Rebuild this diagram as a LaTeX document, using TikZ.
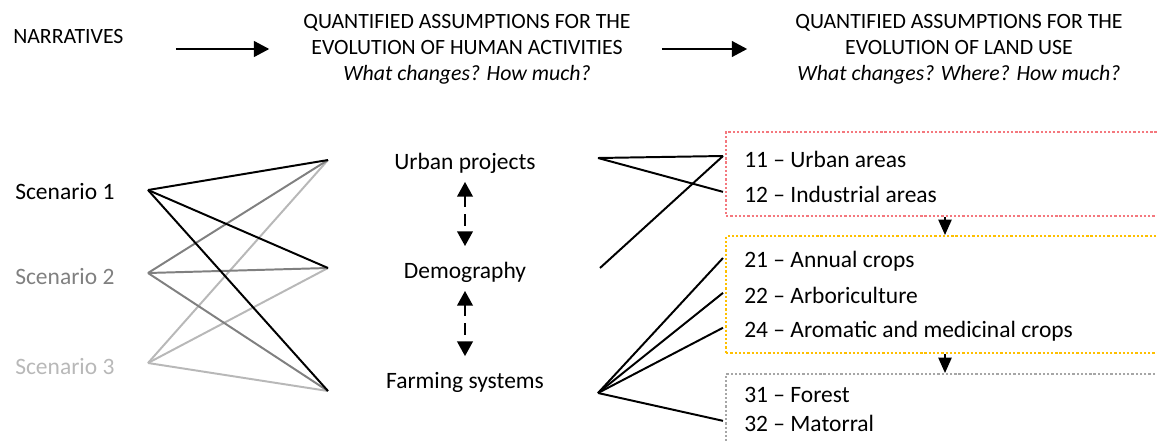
\documentclass[tikz,border=0pt]{standalone}
\usepackage{fontspec}
\setmainfont{Carlito}
\usetikzlibrary{arrows.meta, positioning}

\definecolor{scentwo}{gray}{0.5}
\definecolor{scenthree}{gray}{0.72}
\definecolor{urbanred}{HTML}{F4787E}
\definecolor{cropgold}{HTML}{FFC000}
\definecolor{natgray}{HTML}{A6A6A6}

\begin{document}
\begin{tikzpicture}[
    x=0.025cm, y=-0.025cm,
    every node/.style = {font=\fontsize{16.7}{19}\selectfont},
    heading/.style = {align=center, inner sep=0pt, font=\fontsize{15.5}{18.4}\selectfont},
    item/.style = {anchor=west, inner sep=0pt},
    driver/.style = {inner sep=0pt},
    link/.style = {line width=1.4pt},
    flow/.style = {line width=2.1pt, -{Triangle[length=11pt, width=11pt]}},
    inter/.style = {line width=1.8pt, dash pattern=on 8pt off 5pt,
                    {Triangle[length=10.5pt, width=11pt]}-{Triangle[length=10.5pt, width=11pt]}},
    drop/.style = {line width=1.2pt, -{Triangle[length=11pt, width=9.5pt]}},
    zone/.style = {line width=1.7pt, dash pattern=on 1.6pt off 1.4pt,
                   anchor=north west, inner sep=0pt, minimum width=11.5cm}
  ]

  \useasboundingbox (0,0) rectangle (1157,441);
  \clip (0,0) rectangle (1157,441);

  % Headings
  \node[item, font=\fontsize{15.5}{18.4}\selectfont] (narr) at (13,37) {NARRATIVES};
  \node[heading] (human) at (467,49) {QUANTIFIED ASSUMPTIONS FOR THE\\
    EVOLUTION OF HUMAN ACTIVITIES\\ \textit{What changes? How much?}};
  \node[heading] (land) at (959,49) {QUANTIFIED ASSUMPTIONS FOR THE\\
    EVOLUTION OF LAND USE\\ \textit{What changes? Where? How much?}};

  \draw[flow, shorten <=37pt, shorten >=24pt] (narr.east |- human) -- (human.west);
  \draw[flow, shorten <=22pt, shorten >=34pt] (human.east) -- (land.west);

  % Scenarios
  \node[item] (s1) at (15,192) {Scenario 1};
  \node[item, text=scentwo] (s2) at (15,277) {Scenario 2};
  \node[item, text=scenthree] (s3) at (15,367) {Scenario 3};

  \coordinate (s1x) at (148,190);
  \coordinate (s2x) at (148,273);
  \coordinate (s3x) at (148,363);
  \coordinate (ux) at (328,160);
  \coordinate (dx) at (328,268);
  \coordinate (fx) at (328,391);

  \foreach \s/\c in {3/scenthree, 2/scentwo, 1/black}
    \foreach \t in {ux, dx, fx}
      \draw[link, \c] (s\s x) -- (\t);

  % Drivers
  \node[driver] (urb) at (465,163) {Urban projects};
  \node[driver] (demo) at (465,272) {Demography};
  \node[driver] (farm) at (465,382) {Farming systems};

  \draw[inter, shorten <=6pt, shorten >=11pt] (urb) -- (demo);
  \draw[inter, shorten <=6pt, shorten >=11pt] (demo) -- (farm);

  % Land use classes
  \node[zone, draw=urbanred, minimum height=2.1cm] (urbbox) at (725,131) {};
  \node[zone, draw=cropgold, minimum height=2.925cm] (cropbox) at (725,235) {};
  \node[zone, draw=natgray, minimum height=3cm] (natbox) at (725,373) {};

  \node[item] (c11) at (744,159) {11 – Urban areas};
  \node[item, below=25.5pt of c11.west, anchor=west] (c12) {12 – Industrial areas};
  \node[item] (c21) at (744,261) {21 – Annual crops};
  \node[item, below=24.8pt of c21.west, anchor=west] (c22) {22 – Arboriculture};
  \node[item, below=24.8pt of c22.west, anchor=west] (c24) {24 – Aromatic and medicinal crops};
  \node[item] (c31) at (744,395) {31 – Forest};
  \node[item, below=20.5pt of c31.west, anchor=west] (c32) {32 – Matorral};

  \coordinate (arrowx) at (945,0);
  \draw[drop] (urbbox.south -| arrowx) -- (cropbox.north -| arrowx);
  \draw[drop] (cropbox.south -| arrowx) -- (natbox.north -| arrowx);

  % Links from drivers to classes
  \coordinate (urbx) at (598,158);
  \coordinate (demx) at (600,268);
  \coordinate (farmx) at (598,393);

  \draw[link] (urbx) -- ([shift={(-21,-3)}]c11.west);
  \draw[link] (urbx) -- ([shift={(-21,-3)}]c12.west);
  \draw[link] (demx) -- ([shift={(-21,-3)}]c11.west);
  \foreach \c in {c21, c22, c24, c32}
    \draw[link] (farmx) -- ([shift={(-21,-3)}]\c.west);

\end{tikzpicture}
\end{document}
